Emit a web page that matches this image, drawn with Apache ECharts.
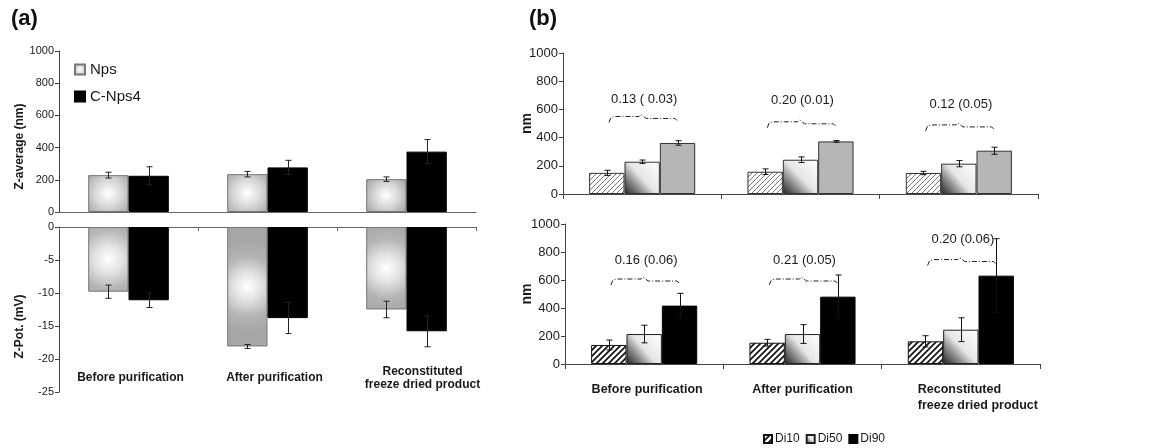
<!DOCTYPE html>
<html><head><meta charset="utf-8">
<script src="https://cdn.jsdelivr.net/npm/echarts@6/dist/echarts.min.js"></script>
<style>html,body{margin:0;padding:0;background:#fff}#c{width:1149px;height:448px}</style>
</head><body><div id="c"></div>
<script>
// ---------- data ----------
const categories = ['Before purification', 'After purification', 'Reconstituted\nfreeze dried product'];
// (a) Z-average (nm)
const zAvgNps = [229, 235, 204];
const zAvgNpsErr = [18, 17, 14];
const zAvgCNps4 = [225, 277, 375];
const zAvgCNps4Err = [56, 44, 75];
// (a) Z-potential (mV)
const zPotNps = [-9.8, -18.1, -12.5];
const zPotNpsErr = [1.0, 0.3, 1.25];
const zPotCNps4 = [-11.1, -13.8, -15.8];
const zPotCNps4Err = [1.1, 2.35, 2.35];
// (b) upper panel (nm)
const upDi10 = [150, 158, 149];
const upDi10Err = [18, 20, 12];
const upDi50 = [229, 243, 215];
const upDi50Err = [12, 20, 22];
const upDi90 = [362, 373, 307];
const upDi90Err = [16, 6, 25];
const upSpanText = ['0.13 ( 0.03)', '0.20 (0.01)', '0.12 (0.05)'];
const upSpanTextLevel = [670, 666, 635];
const upSpanBraceLevel = [550, 512, 490];
// (b) lower panel (nm)
const loDi10 = [136, 152, 162];
const loDi10Err = [35, 24, 40];
const loDi50 = [214, 214, 245];
const loDi50Err = [63, 67, 85];
const loDi90 = [417, 481, 631];
const loDi90Err = [88, 155, 264];
const loSpanText = ['0.16 (0.06)', '0.21 (0.05)', '0.20 (0.06)'];
const loSpanTextLevel = [738, 738, 892];
const loSpanBraceLevel = [607, 607, 746];
const zAvgTicks = [0, 1000, 200];
const zPotTicks = [-25, 0, 5];
const nmTicks = [0, 1000, 200];

// ---------- styles ----------
const SANS = "'Liberation Sans',Arial,sans-serif";
const INK = '#1a1a1a';

function hatch(size, color, lw) {
  const c = document.createElement('canvas');
  c.width = c.height = size;
  const g = c.getContext('2d');
  g.fillStyle = '#fff'; g.fillRect(0, 0, size, size);
  g.strokeStyle = color; g.lineWidth = lw;
  g.beginPath();
  g.moveTo(0, size); g.lineTo(size, 0);
  g.moveTo(-size / 2, size / 2); g.lineTo(size / 2, -size / 2);
  g.moveTo(size / 2, size * 1.5); g.lineTo(size * 1.5, size / 2);
  g.stroke();
  return { image: c, repeat: 'repeat' };
}
const npsFillTop = new echarts.graphic.RadialGradient(0.5, 0.5, 0.75, [
  { offset: 0, color: '#ffffff' }, { offset: 0.5, color: '#d6d6d6' }, { offset: 1, color: '#a4a4a4' }]);
const npsFillBot = new echarts.graphic.RadialGradient(0.5, 0.5, 1.15, [
  { offset: 0, color: '#ffffff' }, { offset: 0.3, color: '#e2e2e2' },
  { offset: 0.65, color: '#b4b4b4' }, { offset: 1, color: '#a6a6a6' }]);
const di50Fill = new echarts.graphic.LinearGradient(0, 1, 1, 0, [
  { offset: 0, color: '#222222' }, { offset: 0.28, color: '#8a8a8a' },
  { offset: 0.5, color: '#e6e6e6' }, { offset: 1, color: '#ffffff' }]);
const hatchUp = hatch(5, '#777', 1);
const hatchLo = hatch(6, '#111', 1.7);

// ---------- helpers ----------
function errSeries(xi, yi, vals, errs, idx, n, frac, color) {
  return {
    type: 'custom', xAxisIndex: xi, yAxisIndex: yi, silent: true, z: 5,
    data: vals.map((v, i) => [i, v, errs[i]]),
    renderItem(params, api) {
      const i = api.value(0), v = api.value(1), e = api.value(2);
      const band = api.size([1, 0])[0];
      const bw = band * frac / n;
      const cx = Math.round(api.coord([i, v])[0] + (idx - (n - 1) / 2) * bw) + 0.5;
      const yHi = api.coord([i, v + e])[1], yLo = api.coord([i, v - e])[1];
      const st = { stroke: color, lineWidth: 1 };
      return { type: 'group', children: [
        { type: 'line', shape: { x1: cx, y1: yHi, x2: cx, y2: yLo }, style: st },
        { type: 'line', shape: { x1: cx - 3, y1: yHi, x2: cx + 3, y2: yHi }, style: st },
        { type: 'line', shape: { x1: cx - 3, y1: yLo, x2: cx + 3, y2: yLo }, style: st }
      ] };
    }
  };
}
function spanSeries(xi, yi, texts, textLv, braceLv) {
  return {
    type: 'custom', xAxisIndex: xi, yAxisIndex: yi, silent: true, z: 6,
    data: texts.map((t, i) => [i, textLv[i], braceLv[i]]),
    renderItem(params, api) {
      const i = api.value(0);
      const band = api.size([1, 0])[0];
      const pT = api.coord([i, api.value(1)]);
      const pB = api.coord([i, api.value(2)]);
      const cx = pT[0], y0 = pB[1];
      const L = cx - band * 0.21, R = cx + band * 0.22, M = cx;
      return { type: 'group', children: [
        { type: 'text', style: { x: cx + 2, y: pT[1], text: texts[params.dataIndex], align: 'center',
            verticalAlign: 'middle', fontSize: 13, fontFamily: SANS, fill: INK } },
        { type: 'polyline', shape: { points: [[L, y0 + 6], [L + 2, y0 + 1], [L + 6, y0], [M - 3, y0],
            [M - 1, y0 - 2], [M + 4, y0 + 2], [R - 2, y0 + 2], [R, y0 + 4]] },
          style: { stroke: '#222', lineWidth: 1, fill: null, lineDash: [5, 2, 1, 2] } }
      ] };
    }
  };
}
function yAx(grid, ticks, name, nameSize, nameGap, labelSize, pad) {
  return {
    type: 'value', gridIndex: grid, min: ticks[0], max: ticks[1], interval: ticks[2],
    axisLine: { show: true, lineStyle: { color: '#444', width: 1 } },
    axisTick: { show: true, length: 4, lineStyle: { color: '#444' } },
    axisLabel: { fontSize: labelSize, fontFamily: SANS, color: INK, margin: 5, formatter: v => String(v) },
    splitLine: { show: false },
    name: name, nameLocation: 'middle', nameRotate: 90, nameGap: nameGap, nameMoveOverlap: false,
    nameTextStyle: { fontSize: nameSize, fontWeight: 'bold', fontFamily: SANS, color: INK, padding: pad }
  };
}

const option = {
  animation: false,
  backgroundColor: '#fff',
  title: [
    { text: '(a)', left: 6, top: 3, textStyle: { fontSize: 22, fontWeight: 'bold', fontFamily: SANS, color: '#111' } },
    { text: '(b)', left: 524, top: 3, textStyle: { fontSize: 22, fontWeight: 'bold', fontFamily: SANS, color: '#111' } }
  ],
  legend: [
    { data: ['Nps', 'C-Nps4'], orient: 'vertical', left: 69, top: 57, itemWidth: 10, itemHeight: 10,
      itemGap: 12, icon: 'rect', textStyle: { fontSize: 15, fontFamily: SANS, color: INK } },
    { data: ['Di10', 'Di50', 'Di90'], left: 758, top: 428, itemWidth: 8, itemHeight: 8, itemGap: 6,
      icon: 'rect', textStyle: { fontSize: 12, fontFamily: SANS, color: INK, padding: [0, 0, 0, -2] } }
  ],
  grid: [
    { left: 59, top: 51, width: 417, height: 161 },
    { left: 59, top: 227, width: 417, height: 165 },
    { left: 563, top: 53, width: 475, height: 141 },
    { left: 565, top: 224, width: 475, height: 140 }
  ],
  xAxis: [
    { type: 'category', gridIndex: 0, data: categories, position: 'bottom',
      axisLine: { lineStyle: { color: '#666' } }, axisTick: { show: false }, axisLabel: { show: false } },
    { type: 'category', gridIndex: 1, data: categories, position: 'top',
      axisLine: { lineStyle: { color: '#666' } },
      axisTick: { show: true, inside: true, length: 4, lineStyle: { color: '#666' } }, axisLabel: { show: false } },
    { type: 'category', gridIndex: 1, data: categories, position: 'bottom',
      axisLine: { show: false }, axisTick: { show: false },
      axisLabel: { show: true, margin: -14, verticalAlign: 'middle', interval: 0,
        fontSize: 12, fontWeight: 'bold', fontFamily: SANS, color: INK, lineHeight: 13,
        formatter: (v, i) => v.split('\n').map(s => '{s' + i + '|' + s + '}').join('\n'),
        rich: {
          s0: { fontSize: 12, fontWeight: 'bold', fontFamily: SANS, color: INK, lineHeight: 13, padding: [0, 0, 0, 4] },
          s1: { fontSize: 12, fontWeight: 'bold', fontFamily: SANS, color: INK, lineHeight: 13, padding: [0, 0, 0, 14] },
          s2: { fontSize: 12, fontWeight: 'bold', fontFamily: SANS, color: INK, lineHeight: 13, padding: [0, 0, 0, 32] }
        } } },
    { type: 'category', gridIndex: 2, data: categories, position: 'bottom',
      axisLine: { lineStyle: { color: '#444' } },
      axisTick: { show: true, length: 5, lineStyle: { color: '#444' } }, axisLabel: { show: false } },
    { type: 'category', gridIndex: 3, data: categories, position: 'bottom',
      axisLine: { lineStyle: { color: '#444' } },
      axisTick: { show: true, length: 5, lineStyle: { color: '#444' } },
      axisLabel: { show: true, margin: 18, verticalAlign: 'top', interval: 0,
        formatter: (v, i) => v.split('\n').map(s => '{' + (i === 2 ? 'l' : 'c' + i) + '|' + s + '}').join('\n'),
        rich: {
          c0: { fontSize: 12.5, fontWeight: 'bold', fontFamily: SANS, color: INK, lineHeight: 16, padding: [0, 0, 0, 6] },
          c1: { fontSize: 12.5, fontWeight: 'bold', fontFamily: SANS, color: INK, lineHeight: 16 },
          l: { fontSize: 12.5, fontWeight: 'bold', fontFamily: SANS, color: INK, lineHeight: 16,
               align: 'left', padding: [0, 0, 0, 34] }
        } } }
  ],
  yAxis: [
    yAx(0, zAvgTicks, 'Z-average (nm)', 12, 33, 11, [0, 30, 0, 0]),
    yAx(1, zPotTicks, 'Z-Pot. (mV)', 12, 33, 11, [0, 34, 0, 0]),
    yAx(2, nmTicks, 'nm', 14, 29, 13, [0, 0, 0, 0]),
    yAx(3, nmTicks, 'nm', 14, 31, 13, [0, 0, 0, 0])
  ],
  series: [
    // (b) lower panel first so the shared legend takes its styles
    { type: 'bar', name: 'Di10', xAxisIndex: 4, yAxisIndex: 3, data: loDi10, barGap: '0%', barCategoryGap: '33%',
      itemStyle: { color: hatchLo, borderColor: '#111', borderWidth: 1 } },
    { type: 'bar', name: 'Di50', xAxisIndex: 4, yAxisIndex: 3, data: loDi50,
      itemStyle: { color: di50Fill, borderColor: '#222', borderWidth: 1 } },
    { type: 'bar', name: 'Di90', xAxisIndex: 4, yAxisIndex: 3, data: loDi90,
      itemStyle: { color: '#000', borderColor: '#000', borderWidth: 1 } },
    // (b) upper panel
    { type: 'bar', name: 'Di10', xAxisIndex: 3, yAxisIndex: 2, data: upDi10, barGap: '0%', barCategoryGap: '33%',
      itemStyle: { color: hatchUp, borderColor: '#333', borderWidth: 1 } },
    { type: 'bar', name: 'Di50', xAxisIndex: 3, yAxisIndex: 2, data: upDi50,
      itemStyle: { color: di50Fill, borderColor: '#333', borderWidth: 1 } },
    { type: 'bar', name: 'Di90', xAxisIndex: 3, yAxisIndex: 2, data: upDi90,
      itemStyle: { color: '#b6b6b6', borderColor: '#333', borderWidth: 1 } },
    // (a) Z-average
    { type: 'bar', name: 'Nps', xAxisIndex: 0, yAxisIndex: 0, data: zAvgNps, barGap: '0%', barCategoryGap: '42%',
      itemStyle: { color: npsFillTop, borderColor: '#777', borderWidth: 1 } },
    { type: 'bar', name: 'C-Nps4', xAxisIndex: 0, yAxisIndex: 0, data: zAvgCNps4,
      itemStyle: { color: '#000', borderColor: '#000', borderWidth: 1 } },
    // (a) Z-potential
    { type: 'bar', name: 'Nps', xAxisIndex: 1, yAxisIndex: 1, data: zPotNps, barGap: '0%', barCategoryGap: '42%',
      itemStyle: { color: npsFillBot, borderColor: '#777', borderWidth: 1 } },
    { type: 'bar', name: 'C-Nps4', xAxisIndex: 1, yAxisIndex: 1, data: zPotCNps4,
      itemStyle: { color: '#000', borderColor: '#000', borderWidth: 1 } },
    // error bars
    errSeries(0, 0, zAvgNps, zAvgNpsErr, 0, 2, 0.58, '#222'),
    errSeries(0, 0, zAvgCNps4, zAvgCNps4Err, 1, 2, 0.58, '#222'),
    errSeries(1, 1, zPotNps, zPotNpsErr, 0, 2, 0.58, '#222'),
    errSeries(1, 1, zPotCNps4, zPotCNps4Err, 1, 2, 0.58, '#222'),
    errSeries(3, 2, upDi10, upDi10Err, 0, 3, 0.67, '#111'),
    errSeries(3, 2, upDi50, upDi50Err, 1, 3, 0.67, '#111'),
    errSeries(3, 2, upDi90, upDi90Err, 2, 3, 0.67, '#111'),
    errSeries(4, 3, loDi10, loDi10Err, 0, 3, 0.67, '#111'),
    errSeries(4, 3, loDi50, loDi50Err, 1, 3, 0.67, '#111'),
    errSeries(4, 3, loDi90, loDi90Err, 2, 3, 0.67, '#111'),
    // span annotations
    spanSeries(3, 2, upSpanText, upSpanTextLevel, upSpanBraceLevel),
    spanSeries(4, 3, loSpanText, loSpanTextLevel, loSpanBraceLevel)
  ]
};
const chart = echarts.init(document.getElementById('c'), null, { renderer: 'canvas' });
chart.setOption(option);
</script>
</body></html>
